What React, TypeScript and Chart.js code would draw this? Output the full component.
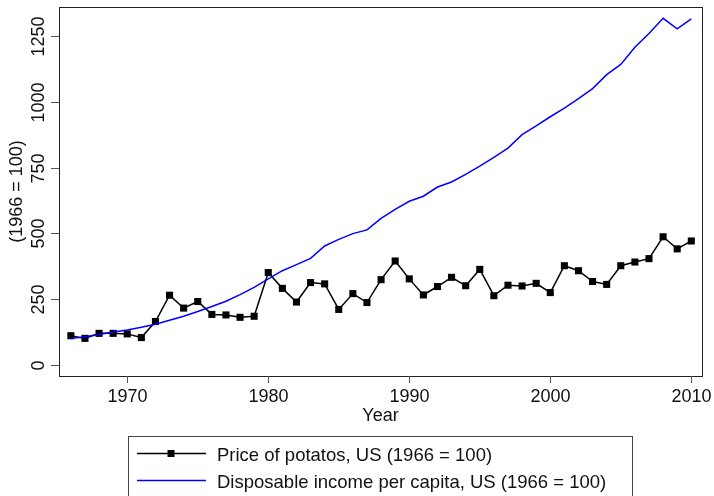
import React, { useEffect, useRef } from "react";
import { Chart, registerables } from "chart.js";

Chart.register(...registerables);

const years = [
  1966, 1967, 1968, 1969, 1970, 1971, 1972, 1973, 1974, 1975, 1976, 1977, 1978, 1979, 1980,
  1981, 1982, 1983, 1984, 1985, 1986, 1987, 1988, 1989, 1990, 1991, 1992, 1993, 1994, 1995,
  1996, 1997, 1998, 1999, 2000, 2001, 2002, 2003, 2004, 2005, 2006, 2007, 2008, 2009, 2010,
];
const priceOfPotatoes = [
  111, 101, 120, 120, 118, 104, 165, 265, 216, 241, 192, 190, 181, 185, 351,
  291, 239, 313, 308, 211, 271, 237, 324, 395, 327, 266, 298, 333, 301, 363,
  263, 303, 300, 310, 275, 377, 358, 317, 306, 377, 391, 404, 487, 441, 471,
];
const disposableIncome = [
  100, 107, 116, 125, 133, 143, 155, 170, 185, 203, 222, 242, 267, 295, 327,
  358, 381, 405, 452, 477, 499, 513, 557, 591, 622, 641, 676, 695, 724, 755,
  789, 824, 875, 908, 943, 976, 1012, 1050, 1103, 1142, 1207, 1259, 1317, 1277, 1315,
];
const yTicks = [0, 250, 500, 750, 1000, 1250];
const xTicks = [1970, 1980, 1990, 2000, 2010];
const seriesLabels = [
  "Price of potatos, US (1966 = 100)",
  "Disposable income per capita, US (1966 = 100)",
];
const yTitle = "(1966 = 100)";
const xTitle = "Year";

const FONT = '"Liberation Sans", Arial, Helvetica, sans-serif';
const BLUE = "#0000ff";

export default function App() {
  const ref = useRef<HTMLCanvasElement>(null);

  useEffect(() => {
    document.body.style.margin = "0";
    const canvas = ref.current!;

    const decor = {
      id: "statadecor",
      afterDatasetsDraw(chart: any) {
        const ctx = chart.ctx as CanvasRenderingContext2D;
        const { left, right, top, bottom } = chart.chartArea;
        const xs = chart.scales.x;
        const ys = chart.scales.y;
        ctx.save();
        // frame
        ctx.strokeStyle = "#222";
        ctx.lineWidth = 1;
        ctx.strokeRect(Math.round(left) + 0.5, Math.round(top) + 0.5, Math.round(right - left), Math.round(bottom - top));
        ctx.fillStyle = "#111";
        ctx.font = `18px ${FONT}`;
        // y ticks
        ctx.strokeStyle = "#555";
        for (const v of yTicks) {
          const py = Math.round(ys.getPixelForValue(v)) + 0.5;
          ctx.beginPath();
          ctx.moveTo(left - 8, py);
          ctx.lineTo(left, py);
          ctx.stroke();
          ctx.save();
          ctx.translate(44, py);
          ctx.rotate(-Math.PI / 2);
          ctx.textAlign = "center";
          ctx.textBaseline = "alphabetic";
          ctx.fillText(String(v), 0, 0);
          ctx.restore();
        }
        // y title
        ctx.save();
        ctx.translate(17, (top + bottom) / 2);
        ctx.rotate(-Math.PI / 2);
        ctx.textAlign = "center";
        ctx.textBaseline = "middle";
        ctx.fillText(yTitle, 0, 0);
        ctx.restore();
        // x ticks
        for (const v of xTicks) {
          const px = Math.round(xs.getPixelForValue(v)) + 0.5;
          ctx.beginPath();
          ctx.moveTo(px, bottom);
          ctx.lineTo(px, bottom + 7);
          ctx.stroke();
          ctx.textAlign = "center";
          ctx.textBaseline = "alphabetic";
          ctx.fillText(String(v), px, 402);
        }
        // x title
        ctx.textAlign = "center";
        ctx.fillText(xTitle, (left + right) / 2, 421);

        // legend
        ctx.font = `18.5px ${FONT}`;
        ctx.strokeStyle = "#444";
        ctx.lineWidth = 1;
        ctx.strokeRect(128.5, 436.5, 504, 70);
        const rows = [453, 480];
        chart.data.datasets.forEach((ds: any) => {
          const idx = ds.label === seriesLabels[0] ? 0 : 1;
          const y = rows[idx];
          ctx.strokeStyle = ds.borderColor;
          ctx.lineWidth = ds.borderWidth;
          ctx.beginPath();
          ctx.moveTo(137, y + 0.5);
          ctx.lineTo(206, y + 0.5);
          ctx.stroke();
          if (ds.pointRadius > 0) {
            ctx.fillStyle = ds.pointBackgroundColor;
            ctx.fillRect(171 - 3.5, y + 0.5 - 3.5, 7, 7);
          }
          ctx.fillStyle = "#111";
          ctx.textAlign = "left";
          ctx.textBaseline = "alphabetic";
          ctx.fillText(ds.label, 217, y + 8);
        });
        ctx.restore();
      },
    };

    const chart = new Chart(canvas, {
      type: "line",
      data: {
        datasets: [
          {
            label: seriesLabels[1],
            data: years.map((yr, i) => ({ x: yr, y: disposableIncome[i] })),
            borderColor: BLUE,
            backgroundColor: BLUE,
            borderWidth: 1.5,
            pointRadius: 0,
            tension: 0,
            order: 0,
          },
          {
            label: seriesLabels[0],
            data: years.map((yr, i) => ({ x: yr, y: priceOfPotatoes[i] })),
            borderColor: "#000",
            backgroundColor: "#000",
            pointBackgroundColor: "#000",
            pointBorderColor: "#000",
            borderWidth: 1.5,
            pointStyle: "rect",
            pointRadius: 5,
            pointBorderWidth: 0,
            tension: 0,
            order: 1,
          },
        ],
      },
      options: {
        responsive: false,
        animation: false,
        devicePixelRatio: 1,
        layout: { padding: { left: 59, right: 12, top: 7, bottom: 120 } },
        plugins: { legend: { display: false }, tooltip: { enabled: false } },
        scales: {
          x: { type: "linear", min: 1965.16, max: 2010.76, display: false },
          y: { type: "linear", min: -42, max: 1360, display: false },
        },
      },
      plugins: [decor],
    } as any);

    return () => chart.destroy();
  }, []);

  return (
    <div style={{ position: "fixed", left: 0, top: 0, width: 714, height: 496, background: "#fff" }}>
      <canvas ref={ref} width={714} height={496} style={{ display: "block", width: 714, height: 496 }} />
    </div>
  );
}
